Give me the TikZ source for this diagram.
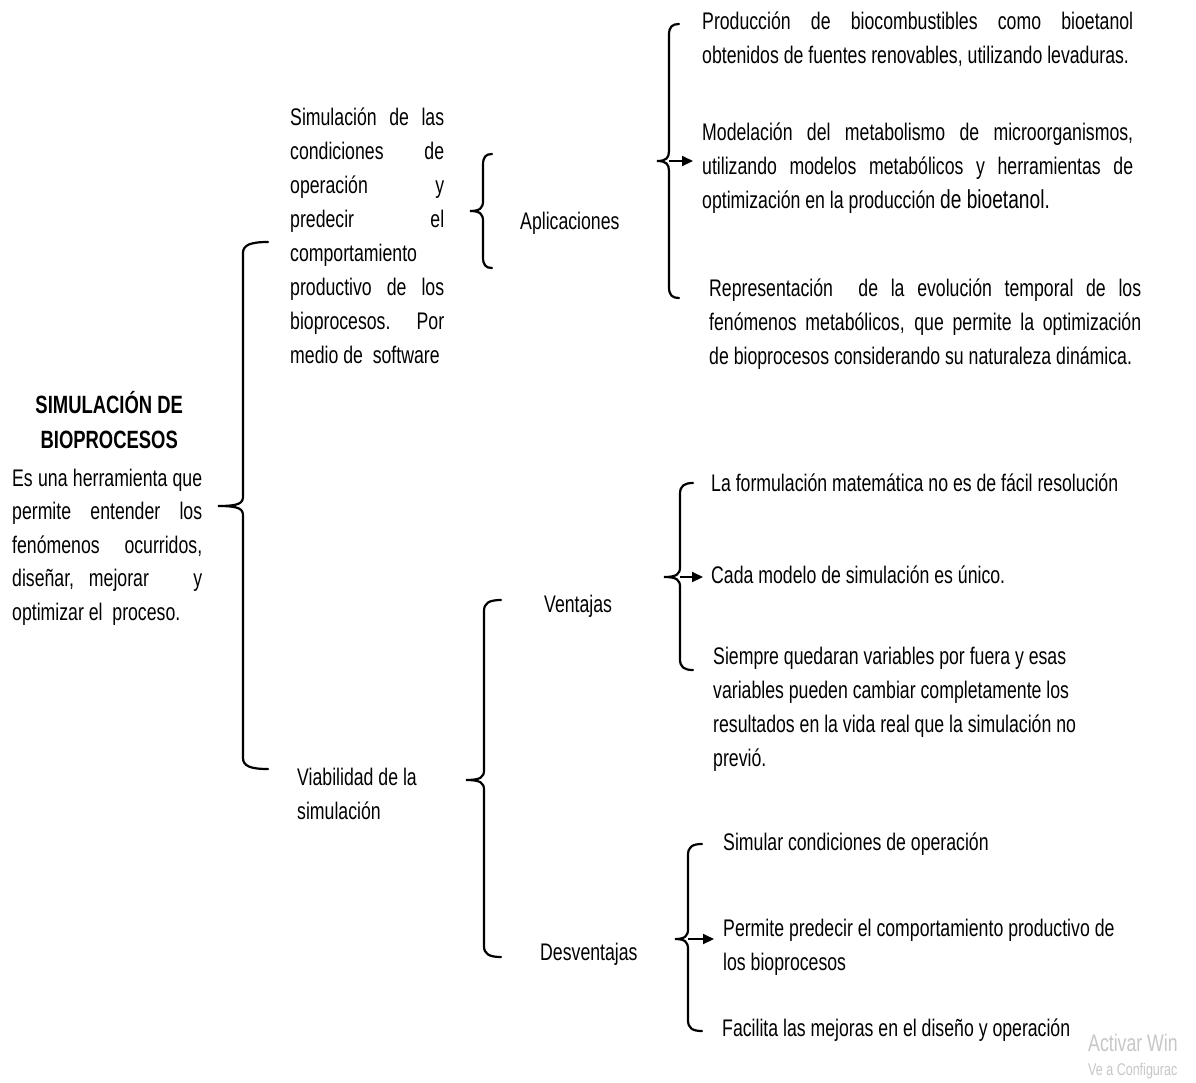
\documentclass[tikz,border=0pt]{standalone}
\usepackage{fontspec}
\setmainfont{Liberation Sans}[FakeStretch=0.737]
\usetikzlibrary{arrows.meta}
\lefthyphenmin=64
\newcommand{\jl}[2]{\makebox[#1][s]{#2}}
% xv xe xt yt ym yb
\newcommand{\cbrace}[6]{%
  \draw[bracestyle] (#2,#4) .. controls ({#1+0.3*(#2-#1)},#4) and (#1,{#4+3}) .. (#1,{#4+11})
   -- (#1,{#5-10}) .. controls (#1,{#5-3}) and ({#1-3},#5) .. (#3,#5)
   .. controls ({#1-3},#5) and (#1,{#5+3}) .. (#1,{#5+10})
   -- (#1,{#6-11}) .. controls (#1,{#6-3}) and ({#1+0.3*(#2-#1)},#6) .. (#2,#6);}
\begin{document}
\begin{tikzpicture}[x=1pt,y=-1pt,
  txt/.style={anchor=base west, inner sep=0pt, font=\fontsize{24}{34}\selectfont, align=flush left},
  bracestyle/.style={line width=2.2pt, line cap=round},
  arr/.style={line width=2pt, -{Triangle[length=11pt,width=10pt]}},
  wm/.style={anchor=base west, inner sep=0pt, text=black!22}]
\useasboundingbox (0,0) rectangle (1196,1082);
\fill[white] (0,0) rectangle (1196,1082);

% left
\node[txt, text width=190pt, align=flush center, font=\bfseries\fontsize{25}{35}\selectfont] (title) at (14,413) {SIMULACIÓN DE\\BIOPROCESOS};
\node[txt, text width=200pt, font=\fontsize{24}{33.5}\selectfont] (intro) at (12,486)
  {\jl{190pt}{Es una herramienta que}\\ \jl{190pt}{permite entender los}\\ \jl{190pt}{fenómenos ocurridos,}\\ \jl{190pt}{diseñar,\ mejorar\ \ \ y}\\ optimizar el\ \ proceso.};

% middle
\node[txt, text width=170pt] (sim) at (290,125)
  {\jl{154pt}{Simulación de las}\\ \jl{154pt}{condiciones de}\\ \jl{154pt}{operación y}\\ \jl{154pt}{predecir el}\\ comportamiento\\ \jl{154pt}{productivo de los}\\ \jl{154pt}{bioprocesos.\ \ Por}\\ medio de\ \ software};
\node[txt, text width=170pt] (viab) at (297,785) {Viabilidad de la\\ simulación};

\node[txt] (apl) at (520,229) {Aplicaciones};
\node[txt] (vent) at (544,612) {Ventajas};
\node[txt] (desv) at (540,960) {Desventajas};

% right: aplicaciones
\node[txt, text width=460pt] (p1) at (702,29)
  {\jl{431pt}{Producción de biocombustibles como bioetanol}\\ obtenidos de fuentes renovables, utilizando levaduras.};
\node[txt, text width=460pt] (p2) at (702,140)
  {\jl{431pt}{Modelación del metabolismo de microorganismos,}\\ \jl{431pt}{utilizando modelos metabólicos y herramientas de}\\ optimización en la producción {\fontsize{26}{34}\selectfont de bioetanol.}};
\node[txt, text width=460pt] (p3) at (709,296)
  {\jl{432pt}{Representación\ \ de la evolución temporal de los}\\ \jl{432pt}{fenómenos metabólicos, que permite la optimización}\\ de bioprocesos considerando su naturaleza dinámica.};

% right: ventajas
\node[txt] (v1) at (711,491) {La formulación matemática no es de fácil resolución};
\node[txt] (v2) at (711,583) {Cada modelo de simulación es único.};
\node[txt, text width=450pt] (v3) at (713,664)
  {Siempre quedaran variables por fuera y esas\\ variables pueden cambiar completamente los\\ resultados en la vida real que la simulación no\\ previó.};

% right: desventajas
\node[txt] (d1) at (723,850) {Simular condiciones de operación};
\node[txt, text width=450pt] (d2) at (723,936) {Permite predecir el comportamiento productivo de\\ los bioprocesos};
\node[txt] (d3) at (722,1036) {Facilita las mejoras en el diseño y operación};

% watermark
\node[wm, font=\fontsize{24}{28}\selectfont] (wm1) at (1088,1051) {Activar Win};
\node[wm, font=\fontsize{17}{20}\selectfont] (wm2) at (1088,1075) {Ve a Configurac};

% braces
\cbrace{243}{268}{218}{242}{506}{769}
\cbrace{483}{492}{470}{154}{211}{268}
\cbrace{669}{679}{657}{24}{161}{298}
\cbrace{484}{501}{466}{600}{780}{957}
\cbrace{680}{693}{664}{483}{577}{670}
\cbrace{688}{702}{675}{844}{939}{1031}

% arrows
\coordinate (a1s) at (669,161); \coordinate (a1e) at (693,161);
\coordinate (a2s) at (680,577); \coordinate (a2e) at (703,577);
\coordinate (a3s) at (688,939); \coordinate (a3e) at (714,939);
\draw[arr] (a1s) -- (a1e);
\draw[arr] (a2s) -- (a2e);
\draw[arr] (a3s) -- (a3e);
\end{tikzpicture}
\end{document}
